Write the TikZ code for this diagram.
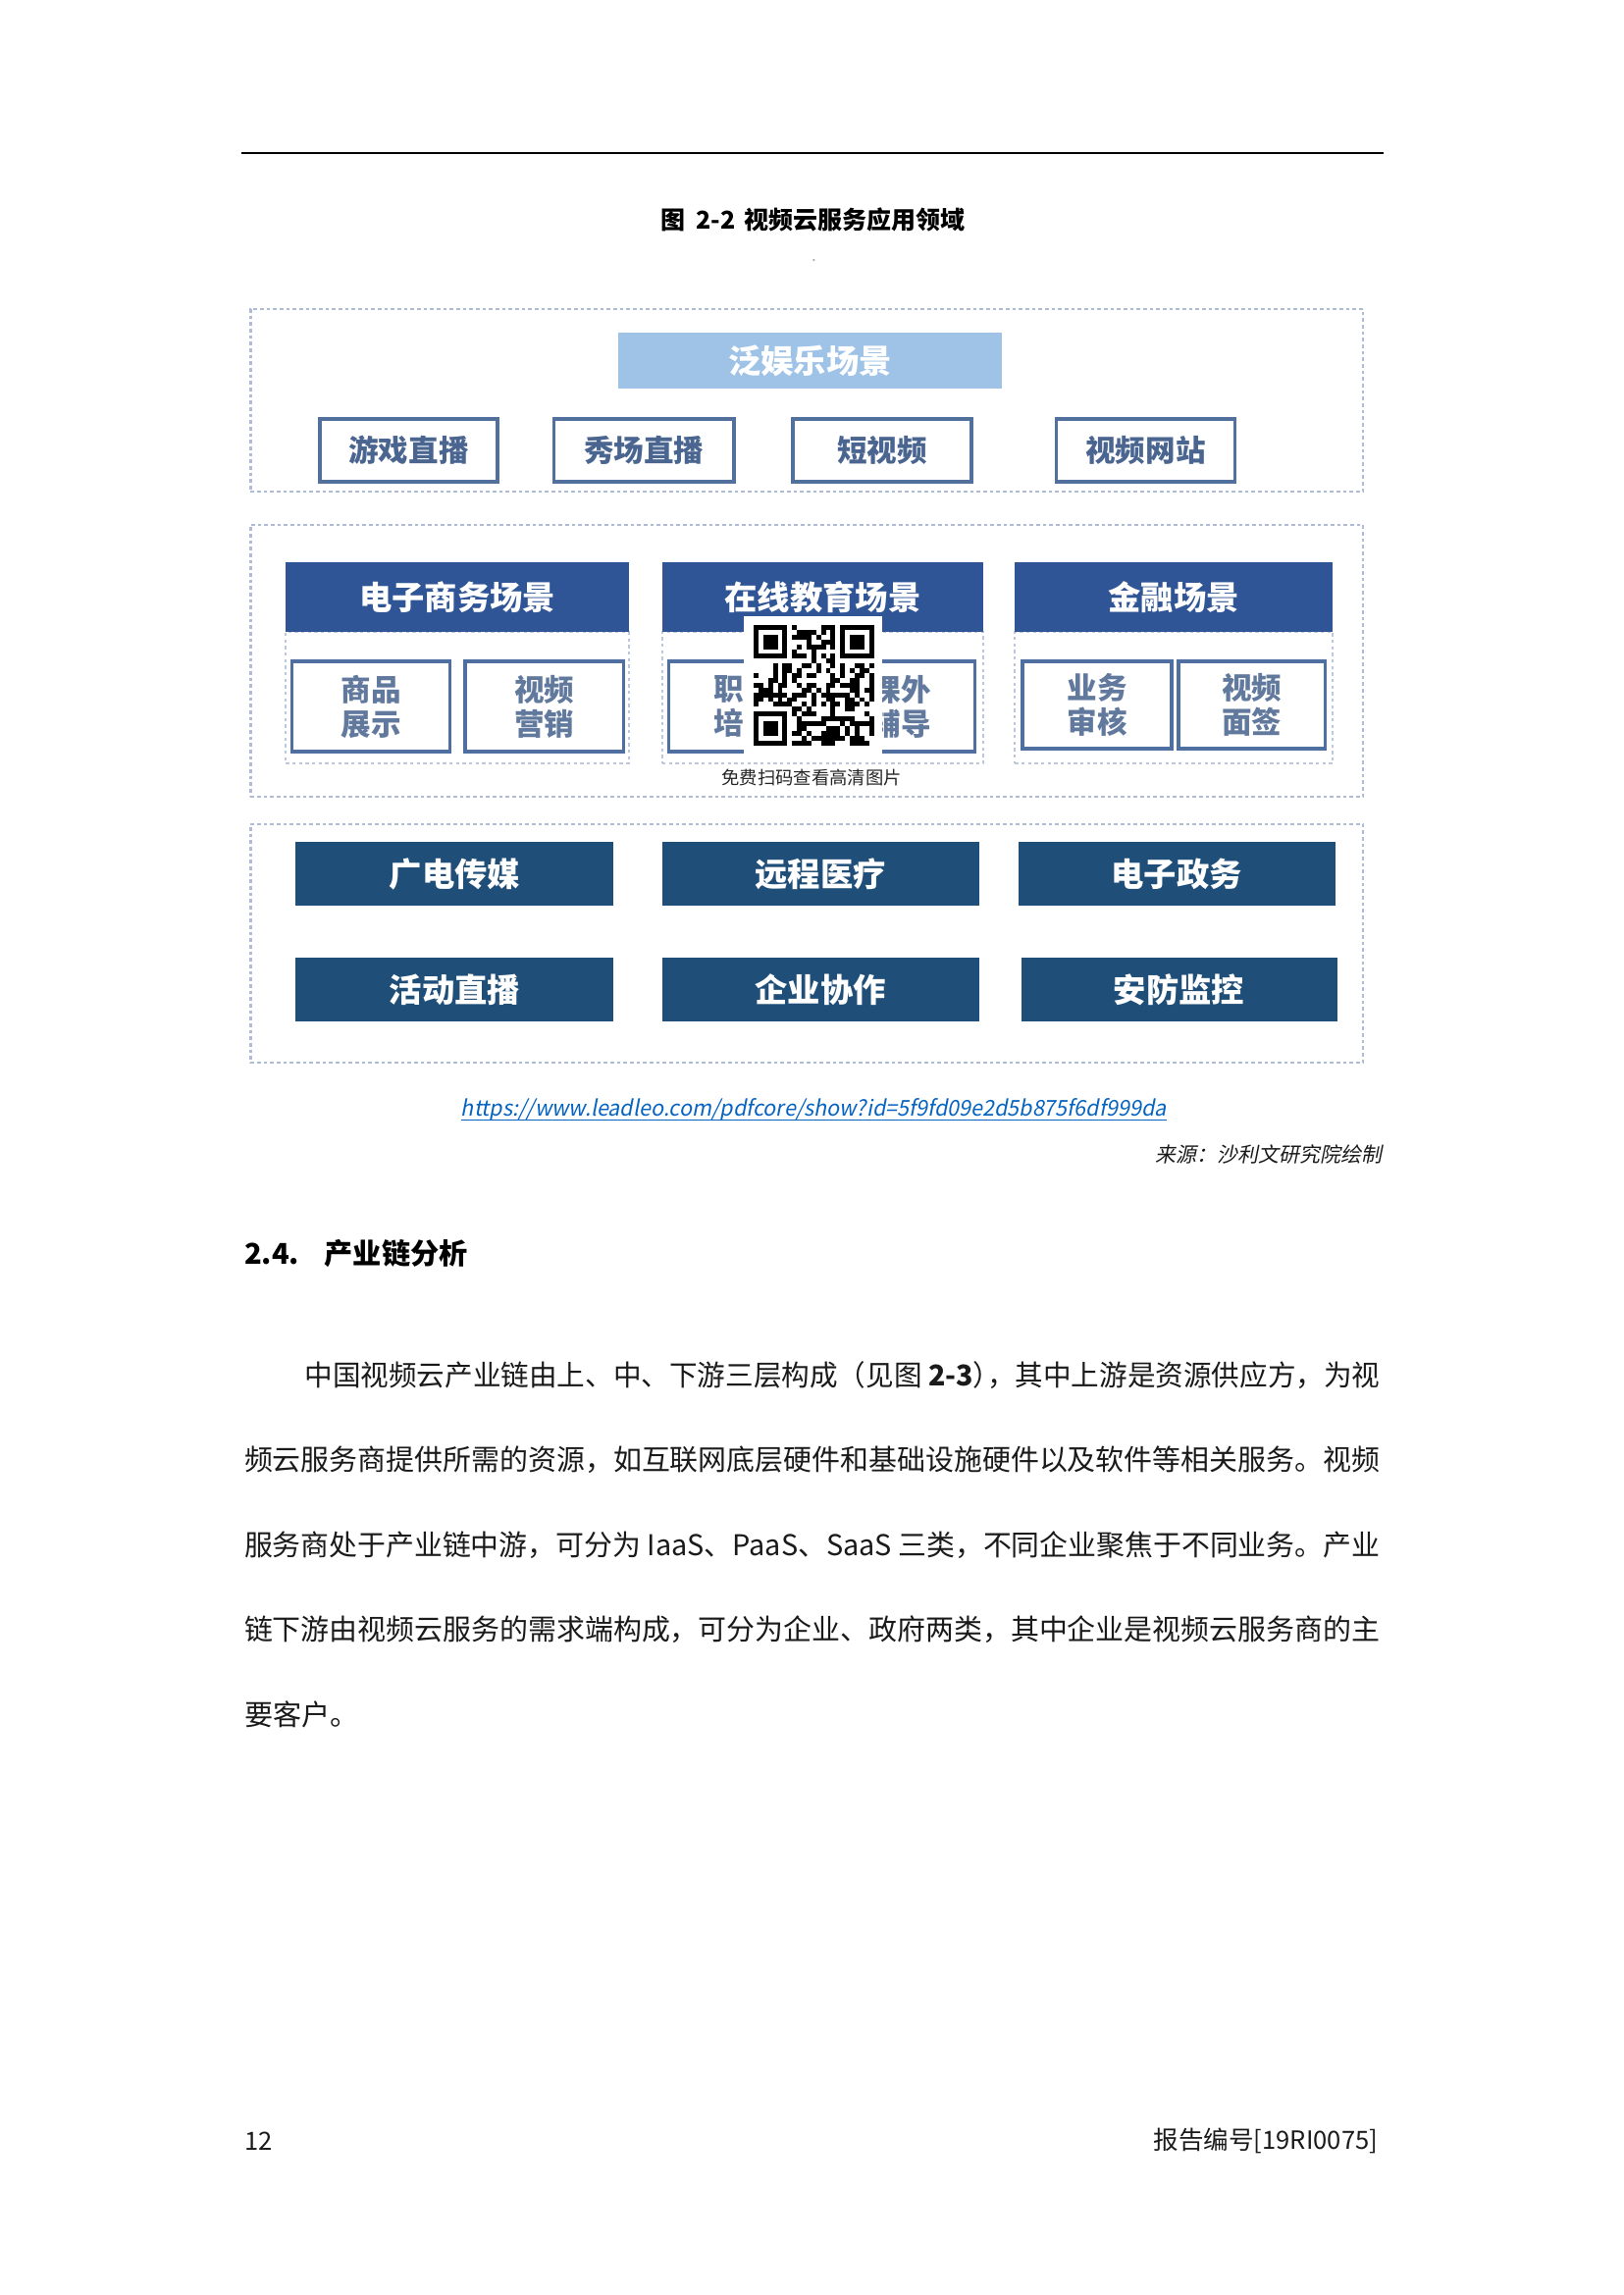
\documentclass[tikz,border=0pt]{standalone}
\usepackage{graphicx}
\usepackage{fontspec}
\setmainfont{Noto Sans CJK SC}
\newfontfamily\slantfont{Noto Sans CJK SC}[FakeSlant=0.2]
\usetikzlibrary{fit}
\definecolor{lightbluec}{HTML}{9FC3E7}
\definecolor{topborder}{HTML}{52709C}
\definecolor{toptext}{HTML}{4A6590}
\definecolor{headc}{HTML}{2F5597}
\definecolor{subborder}{HTML}{4E6FA0}
\definecolor{subtext}{HTML}{62799E}
\definecolor{darkc}{HTML}{1F4E79}
\definecolor{framec}{HTML}{B0BCD6}
\definecolor{urlc}{HTML}{0563C1}
\definecolor{bodyc}{HTML}{1A1A1A}
\newlength\natw
\newcommand\jl[2]{\settowidth\natw{#2}%
  \ifdim\natw>#1\relax\resizebox{#1}{\height}{#2}%
  \else\parbox{#1}{\XeTeXlinebreaklocale "zh"\XeTeXlinebreakskip=0pt plus 1fil\parfillskip=0pt\tolerance=10000\noindent #2}\fi}
% box with centred text: style, name, x1, y1, x2, y2, text
\newcommand\bx[7]{%
  \node[#1, fit={(#3,#4) (#5,#6)}] (#2) {};
  \node[#1text] (#2t) at (#2.center) {#7};}
\tikzset{
  txt/.style={inner sep=0pt, outer sep=0pt},
  outerframe/.style={draw=framec, line width=1pt, inner sep=0pt, dash pattern=on 1.3pt off 1.1pt},
  groupframe/.style={draw=framec!85, line width=0.7pt, inner sep=0pt, dash pattern=on 1.2pt off 1.2pt},
  lbbox/.style={fill=lightbluec, inner sep=0pt},
  lbboxtext/.style={txt, text=white, font=\bfseries\fontsize{12pt}{14pt}\selectfont},
  topbox/.style={draw=topborder, line width=1.2pt, fill=white, inner sep=0pt},
  topboxtext/.style={txt, text=toptext, font=\bfseries\fontsize{11pt}{13pt}\selectfont},
  headbox/.style={fill=headc, inner sep=0pt},
  headboxtext/.style={txt, text=white, font=\bfseries\fontsize{12pt}{14pt}\selectfont},
  subbox/.style={draw=subborder, line width=1.1pt, fill=white, inner sep=0pt},
  subboxtext/.style={txt, text=subtext, align=center, font=\bfseries\fontsize{11pt}{12.6pt}\selectfont},
  darkbox/.style={fill=darkc, inner sep=0pt},
  darkboxtext/.style={txt, text=white, font=\bfseries\fontsize{12pt}{14pt}\selectfont},
  body/.style={txt, text=bodyc, font=\fontsize{10.5pt}{12pt}\selectfont},
}
\begin{document}
\begin{tikzpicture}[x=0.36pt, y=-0.36pt]
\useasboundingbox[fill=white] (0,0) rectangle (1654,2339);
% header rule
\coordinate (hl1) at (246,156);
\coordinate (hl2) at (1410,156);
\draw[line width=0.75pt] (hl1) -- (hl2);
% title
\node[txt, font=\bfseries\fontsize{9pt}{11pt}\selectfont] (title) at (828.5,224) {图\hspace{0.45em}2-2\hspace{0.35em}视频云服务应用领域};
\fill[gray!70] (829.4,265) circle (1.2);

% ===== layer 1
\node[outerframe, fit={(255.3,315) (1389,501)}] (f1) {};
\bx{lbbox}{ent}{629.9}{339}{1021.3}{396}{泛娱乐场景}
\bx{topbox}{a1}{326}{427}{507}{491}{游戏直播}
\bx{topbox}{a2}{564.6}{427}{748}{491}{秀场直播}
\bx{topbox}{a3}{808}{427}{990}{491}{短视频}
\bx{topbox}{a4}{1076.5}{427}{1258.4}{491}{视频网站}

% ===== layer 2
\node[outerframe, fit={(255.3,535) (1389,812)}] (f2) {};
\node[groupframe, fit={(291.4,644) (640.6,778)}] (g1) {};
\node[groupframe, fit={(675,644) (1002,778)}] (g2) {};
\node[groupframe, fit={(1034.3,644) (1358.2,778)}] (g3) {};
\bx{headbox}{h1}{291.4}{573}{640.6}{644}{电子商务场景}
\bx{headbox}{h2}{675}{573}{1002}{644}{在线教育场景}
\bx{headbox}{h3}{1034.3}{573}{1358.2}{644}{金融场景}
\bx{subbox}{s1}{297.6}{674}{458.7}{766}{商品\\展示}
\bx{subbox}{s2}{474}{674}{635.2}{766}{视频\\营销}
\bx{subbox}{s3}{681.3}{674}{835}{766}{职业\\培训}
\bx{subbox}{s4}{843}{674}{993.6}{766}{课外\\辅导}
\bx{subbox}{s5}{1042}{674}{1194}{763}{业务\\审核}
\bx{subbox}{s6}{1201}{674}{1350.5}{763}{视频\\面签}

% QR code overlay
\node[fill=white, inner sep=0pt, fit={(758,628) (898.5,768)}] (qr) {};
\begin{scope}
\pgfmathsetseed{7}
\foreach \i in {0,...,24}{
  \foreach \j in {0,...,24}{
    \pgfmathtruncatemacro{\inf}{((\i<8)&&(\j<8))||((\i>16)&&(\j<8))||((\i<8)&&(\j>16))}
    \pgfmathtruncatemacro{\r}{rnd<0.5}
    \ifnum\inf=0 \ifnum\r=1 \fill[black] (768+4.9*\i,637+4.9*\j) rectangle ++(4.9,4.9); \fi\fi
  }}
\foreach \ox/\oy in {768/637, 856.2/637, 768/725.2}{
  \fill[black] (\ox,\oy) rectangle ++(34.3,34.3);
  \fill[white] (\ox+4.9,\oy+4.9) rectangle ++(24.5,24.5);
  \fill[black] (\ox+9.8,\oy+9.8) rectangle ++(14.7,14.7);
}
\end{scope}
\node[fill=white, inner sep=0pt, fit={(731,780) (927,805)}] (capbg) {};
\node[txt, font=\fontsize{6.6pt}{8pt}\selectfont, text=black!85] (cap) at (827,793) {免费扫码查看高清图片};

% ===== layer 3
\node[outerframe, fit={(255.3,840) (1389,1083)}] (f3) {};
\bx{darkbox}{d1}{301.4}{858}{625.3}{923}{广电传媒}
\bx{darkbox}{d2}{675}{858}{997.5}{923}{远程医疗}
\bx{darkbox}{d3}{1038}{858}{1360.5}{923}{电子政务}
\bx{darkbox}{d4}{301.4}{976}{625.3}{1041}{活动直播}
\bx{darkbox}{d5}{675}{976}{997.5}{1041}{企业协作}
\bx{darkbox}{d6}{1040.5}{976}{1362.8}{1041}{安防监控}

% source lines
\node[txt, text=urlc, font=\slantfont\fontsize{8pt}{9pt}\selectfont] (url) at (829.3,1131) {\resizebox{258.7pt}{\height}{https://www.leadleo.com/pdfcore/show?id=5f9fd09e2d5b875f6df999da}};
\draw[urlc, line width=0.45pt] ([yshift=-1.4pt]url.base west) -- ([yshift=-1.4pt]url.base east);
\node[txt, anchor=east, text=bodyc, font=\slantfont\fontsize{7.55pt}{9pt}\selectfont] (src) at (1408,1177) {来源：沙利文研究院绘制};

% heading
\node[txt, anchor=west, text=black, font=\bfseries\fontsize{10.5pt}{12pt}\selectfont] (sec) at (249,1278) {\makebox[29.4pt][l]{2.4.}产业链分析};

% body paragraph
\node[body, anchor=west] (p1) at (310.6,1401.5) {\jl{394.5pt}{中国视频云产业链由上、中、下游三层构成（见图 \textbf{2-3}\makebox[0.5em][l]{）}，其中上游是资源供应方，为视}};
\node[body, anchor=west] (p2) at (249,1488) {\jl{416.6pt}{频云服务商提供所需的资源，如互联网底层硬件和基础设施硬件以及软件等相关服务。视频}};
\node[body, anchor=west] (p3) at (249,1574.5) {\jl{416.6pt}{服务商处于产业链中游，可分为 IaaS、PaaS、SaaS 三类，不同企业聚焦于不同业务。产业}};
\node[body, anchor=west] (p4) at (249,1661) {\jl{416.6pt}{链下游由视频云服务的需求端构成，可分为企业、政府两类，其中企业是视频云服务商的主}};
\node[body, anchor=west] (p5) at (249,1747.5) {要客户。};

% footer
\node[txt, anchor=west, text=bodyc, font=\fontsize{9.2pt}{11pt}\selectfont] (pg) at (249,2182) {12};
\node[txt, anchor=east, text=bodyc, font=\fontsize{9.2pt}{11pt}\selectfont] (rep) at (1404,2182) {报告编号[19RI0075]};
\end{tikzpicture}
\end{document}
